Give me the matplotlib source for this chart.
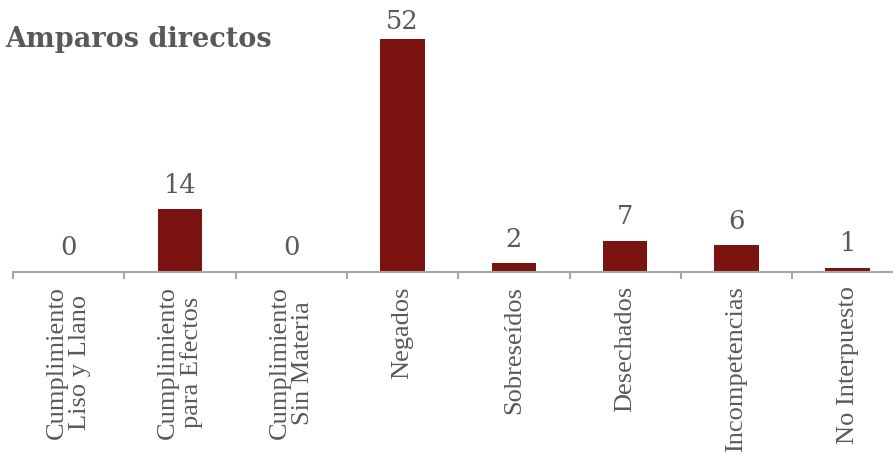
import matplotlib
matplotlib.use("Agg")
import matplotlib.pyplot as plt
import matplotlib.transforms as mtransforms

categories = ["Cumplimiento\nLiso y Llano", "Cumplimiento\npara Efectos", "Cumplimiento\nSin Materia",
              "Negados", "Sobreseídos", "Desechados", "Incompetencias", "No Interpuesto"]
values = [0, 14, 0, 52, 2, 7, 6, 1]
title = "Amparos directos"

W, H = 893, 456
fig = plt.figure(figsize=(W / 100, H / 100), dpi=100)
ax_h_px = 273
ax = fig.add_axes([13 / W, (H - ax_h_px) / H, 8 * 111.3 / W, ax_h_px / H])

bar_color = "#7B1411"
text_color = "#595959"
axis_color = "#A6A6A6"

x = list(range(len(categories)))
ymax = 60.9
ax.bar(x, values, width=0.4, color=bar_color)
ax.set_xlim(-0.5, len(categories) - 0.5)
ax.set_ylim(0, ymax)

# value labels: ~17px above the bar, kept inside the plot area (as the original does)
px_per_unit = ax_h_px / ymax
for xi, v in zip(x, values):
    space_px = (ymax - v) * px_per_unit
    off_px = min(17.5, space_px - 29)
    ax.annotate(str(v), (xi, v), xytext=(0, off_px * 72 / 100), textcoords="offset points",
                ha="center", va="baseline", fontsize=18.5, color=text_color,
                family="DejaVu Serif")

for s in ["top", "right", "left"]:
    ax.spines[s].set_visible(False)
ax.spines["bottom"].set_color(axis_color)
ax.spines["bottom"].set_linewidth(1.5)
ax.set_yticks([])
ax.set_xticks([i - 0.5 for i in range(len(categories) + 1)])
ax.set_xticklabels([""] * (len(categories) + 1))
ax.tick_params(axis="x", which="major", direction="out", length=5, width=1.5, color=axis_color)

trans = ax.get_xaxis_transform() + mtransforms.ScaledTranslation(0, -9.5 / 72, fig.dpi_scale_trans)
for xi, lab in zip(x, categories):
    ax.text(xi, 0, lab, transform=trans, rotation=90, ha="center", va="top",
            multialignment="center", linespacing=1.05, fontsize=19,
            family="Liberation Serif", color=text_color, clip_on=False)

fig.text(5 / W, 1 - 47 / H, title, fontsize=19.5, fontweight="bold", color=text_color,
         family="DejaVu Serif", ha="left", va="baseline")

fig.savefig("out.png", dpi=100)
